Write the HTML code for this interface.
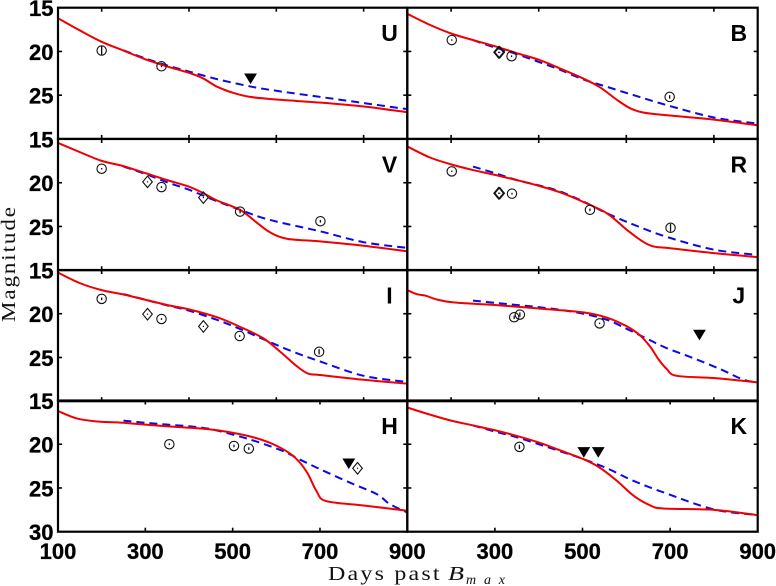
<!DOCTYPE html>
<html lang="en">
<head>
<meta charset="utf-8">
<title>Light curves by band</title>
<style>
html,body{margin:0;padding:0;background:#fff;width:776px;height:586px;overflow:hidden}
svg{display:block}
.tick-label{font-family:"Liberation Sans",sans-serif;font-weight:bold;font-size:22px;fill:#000;stroke:#000;stroke-width:.3px}
.band{font-family:"Liberation Sans",sans-serif;font-weight:bold;font-size:23px;fill:#000}
.axis-title{font-family:"Liberation Serif",serif;font-size:20px;fill:#111}
</style>
</head>
<body>
<svg id="chart" width="776" height="586" viewBox="0 0 776 586" xmlns="http://www.w3.org/2000/svg">
<text class="axis-title" transform="translate(328,580) scale(1.2,1)" textLength="93" lengthAdjust="spacing">Days past</text>
<text class="axis-title" x="448" y="580" font-style="italic" textLength="16" lengthAdjust="spacingAndGlyphs">B</text>
<text class="axis-title" x="466" y="584" font-style="italic" textLength="39" lengthAdjust="spacing" style="font-size:14px">max</text>
<text class="axis-title" transform="translate(15,322) rotate(-90) scale(1.15,1)" textLength="100" lengthAdjust="spacing">Magnitude</text>
</svg>
<script>
const xTickTop = [200, 400, 600, 800];
const xTickBottom = [300, 500, 700];
const xTickLabels = ['100', '300', '500', '700', '900'];
const xLabelDays = [100, 300, 500, 700, 900];
const yTicks = [20, 25];
const yLabelsUpper = [15, 20, 25];
const yLabelsLast = [15, 20, 25, 30];

const uRed = [[100,16.2],[150,17.6],[200,18.9],[250,19.9],[300,20.9],[349,21.7],[400,22.45],[433,23.1],[463,24],[502,24.75],[540,25.2],[600,25.5],[700,25.85],[800,26.3],[900,26.95]];
const uBlue = [[250,19.87],[300,20.8],[350,21.6],[400,22.3],[463,23.15],[540,24],[600,24.5],[700,25.2],[800,25.9],[900,26.6]];
const uCircles = [[200,19.9,0.5],[337,21.7,0.1]];
const uDiamonds = [];
const uTriangles = [[541,23.1]];

const bRed = [[100,15.7],[151,16.95],[200,17.95],[250,18.7],[300,19.4],[350,20.2],[400,20.95],[449,21.95],[502,23.1],[540,24.1],[579,25.55],[609,26.5],[640,27],[693,27.3],[800,27.8],[900,28.45]];
const bBlue = [[250,18.7],[300,19.55],[350,20.3],[400,21.2],[449,22.1],[502,23.2],[556,24.05],[617,25],[693,26.15],[800,27.55],[900,28.25]];
const bCircles = [[201.5,18.7,0.05],[338,20.55,0.1],[699,25.2,0.2]];
const bDiamonds = [[308.5,20.1,0.1],[311,20.1,0.1]];
const bTriangles = [];

const vRed = [[100,15.45],[150,16.5],[200,17.5],[250,18.1],[300,18.9],[350,19.7],[400,20.45],[433,21.2],[463,22],[517,23.1],[555,24.55],[585,25.65],[624,26.4],[700,26.7],[800,27.2],[900,27.85]];
const vBlue = [[250,18.15],[300,19],[350,19.95],[400,20.8],[456,21.95],[517,23.1],[585,24.25],[700,25.55],[800,26.8],[900,27.45]];
const vCircles = [[200,18.4,0.05],[337,20.5,0.1],[517,23.3,0.2],[701,24.4,0.15]];
const vDiamonds = [[305,19.9,0.05],[433,21.7,0.05]];
const vTriangles = [];

const rRed = [[100,15.85],[151,17.1],[200,17.9],[250,18.55],[300,19.1],[350,19.7],[400,20.35],[449,21.1],[502,22.2],[556,23.5],[601.5,25.4],[640,26.8],[663,27.3],[693,27.45],[800,28.05],[900,28.5]];
const rBlue = [[250,18.15],[300,18.9],[350,19.7],[400,20.3],[449,21],[502,22.15],[556,23.5],[617,24.8],[693,26.2],[800,27.65],[900,28.25]];
const rCircles = [[201.5,18.7,0.05],[339,21.25,0.1],[517,23.1,0.15],[701,25.15,0.45]];
const rDiamonds = [[308.5,21.2,0.1],[311,21.2,0.1]];
const rTriangles = [];

const iRed = [[100,15.3],[150,16.5],[200,17.3],[250,17.8],[300,18.4],[350,19],[400,19.5],[464,20.4],[517,21.5],[570,22.8],[608,24.3],[647,26],[673,26.85],[700,27],[800,27.55],[900,28]];
const iBlue = [[250,17.75],[300,18.4],[350,19.05],[400,19.65],[464,20.7],[517,21.75],[570,22.9],[631,24.2],[700,25.45],[800,27.1],[900,27.8]];
const iCircles = [[200,18.3,0.15],[337,20.6,0.1],[516,22.55,0.1],[698,24.35,0.3]];
const iDiamonds = [[305,20.05,0.05],[433,21.45,0.05]];
const iTriangles = [];

const jRed = [[100,17.3],[121,17.75],[143,17.95],[166,18.35],[205,18.7],[300,19],[400,19.4],[502,19.85],[556,20.45],[601.5,21.45],[632,22.5],[655,23.8],[674,25.25],[692,26.3],[715,27.1],[800,27.35],[900,27.85]];
const jBlue = [[250,18.5],[300,18.75],[350,19],[400,19.25],[449,19.55],[502,20],[556,20.7],[602,21.75],[655,23.05],[693,23.95],[754,25.1],[815,26.35],[868,27.55],[900,27.85]];
const jCircles = [[344,20.4,0.2],[357,20.1,0.25],[539,21.1,0.05]];
const jDiamonds = [];
const jTriangles = [[767,22.4]];

const hRed = [[100,16.2],[143,17.05],[189,17.4],[250,17.55],[349,17.95],[448,18.3],[501,18.7],[547,19.2],[593,20],[631,21.05],[654,22.1],[673,23.45],[692,25.35],[714,26.5],[800,27],[900,27.6]];
const hBlue = [[250,17.3],[300,17.55],[349,17.75],[400,17.95],[448,18.25],[501,18.9],[555,19.7],[616,20.8],[654,21.75],[700,22.85],[769,24.4],[830,25.7],[860,26.85],[900,27.8]];
const hCircles = [[355,20,0.1],[503,20.2,0.15],[537,20.5,0.15]];
const hDiamonds = [[786,22.75,0.05]];
const hTriangles = [[766,22.2]];

const kRed = [[100,15.8],[151,16.6],[200,17.3],[250,17.85],[300,18.4],[350,19.05],[400,19.8],[449,20.7],[502,21.7],[540,22.7],[579,24.2],[617,25.9],[655,27],[685,27.35],[800,27.5],[900,28.1]];
const kBlue = [[250,17.85],[300,18.55],[350,19.2],[400,20],[449,20.8],[502,21.7],[556,22.75],[617,24.2],[693,25.65],[800,27.45],[900,28.1]];
const kCircles = [[356,20.3,0.25]];
const kDiamonds = [];
const kTriangles = [[503,20.9],[536,20.9]];

const bandNames = ['U', 'B', 'V', 'R', 'I', 'J', 'H', 'K'];
const redSeries = [uRed, bRed, vRed, rRed, iRed, jRed, hRed, kRed];
const blueSeries = [uBlue, bBlue, vBlue, rBlue, iBlue, jBlue, hBlue, kBlue];
const circleSeries = [uCircles, bCircles, vCircles, rCircles, iCircles, jCircles, hCircles, kCircles];
const diamondSeries = [uDiamonds, bDiamonds, vDiamonds, rDiamonds, iDiamonds, jDiamonds, hDiamonds, kDiamonds];
const triangleSeries = [uTriangles, bTriangles, vTriangles, rTriangles, iTriangles, jTriangles, hTriangles, kTriangles];

const svg = document.getElementById('chart');
const NS = 'http://www.w3.org/2000/svg';
const colEdges = [58, 407.3, 757.7];
const rowTops = [7.7, 139, 270, 400.5];
const rowHeight = 131.2;

function xScale(col, day) {
  return colEdges[col] + (day - 100) / 800 * (colEdges[col + 1] - colEdges[col]);
}
function yScale(row, mag) {
  return rowTops[row] + (mag - 15) / 15 * rowHeight;
}
function make(tag, attrs, parent) {
  const el = document.createElementNS(NS, tag);
  for (const k in attrs) el.setAttribute(k, attrs[k]);
  parent.appendChild(el);
  return el;
}
function smoothPath(series, col, row) {
  const pts = series.map(function (p) {
    return [xScale(col, p[0]), yScale(row, p[1])];
  });
  let d = 'M' + pts[0][0].toFixed(2) + ' ' + pts[0][1].toFixed(2);
  for (let i = 0; i < pts.length - 1; i++) {
    const p0 = pts[Math.max(i - 1, 0)];
    const p1 = pts[i];
    const p2 = pts[i + 1];
    const p3 = pts[Math.min(i + 2, pts.length - 1)];
    const c1x = p1[0] + (p2[0] - p0[0]) / 6;
    const c1y = p1[1] + (p2[1] - p0[1]) / 6;
    const c2x = p2[0] - (p3[0] - p1[0]) / 6;
    const c2y = p2[1] - (p3[1] - p1[1]) / 6;
    d += 'C' + c1x.toFixed(2) + ' ' + c1y.toFixed(2) + ' ' + c2x.toFixed(2) + ' ' + c2y.toFixed(2) + ' ' + p2[0].toFixed(2) + ' ' + p2[1].toFixed(2);
  }
  return d;
}

bandNames.forEach(function (band, idx) {
  const col = idx % 2;
  const row = Math.floor(idx / 2);
  const key = band.toLowerCase();
  const g = make('g', {}, svg);
  
  

  const blue = make('path', {
    d: smoothPath(blueSeries[idx], col, row), fill: 'none', stroke: '#0a0ae6',
    'stroke-width': 2, 'stroke-dasharray': '8 5'
  }, g);
  
  

  const red = make('path', {
    d: smoothPath(redSeries[idx], col, row), fill: 'none', stroke: '#f00000',
    'stroke-width': 2, 'stroke-linejoin': 'round'
  }, g);
  
  

  circleSeries[idx].forEach(function (p) {
    const cx = xScale(col, p[0]);
    const cy = yScale(row, p[1]);
    const c = make('circle', { cx: cx, cy: cy, r: 4.7, fill: 'none', stroke: '#111', 'stroke-width': 1.1 }, g);
    
    
    make('line', {
      x1: cx, x2: cx, y1: cy - Math.max(p[2] * 8.75, 0.7), y2: cy + Math.max(p[2] * 8.75, 0.7),
      stroke: '#111', 'stroke-width': 1.3
    }, g);
  });

  diamondSeries[idx].forEach(function (p) {
    const cx = xScale(col, p[0]);
    const cy = yScale(row, p[1]);
    const d = make('polygon', {
      points: cx + ',' + (cy - 5.8) + ' ' + (cx + 4.8) + ',' + cy + ' ' + cx + ',' + (cy + 5.8) + ' ' + (cx - 4.8) + ',' + cy,
      fill: 'none', stroke: '#111', 'stroke-width': 1.1
    }, g);
    
    
    make('line', {
      x1: cx - 0.6, x2: cx + 0.6, y1: cy, y2: cy, stroke: '#111', 'stroke-width': 1.2
    }, g);
  });

  triangleSeries[idx].forEach(function (p) {
    const cx = xScale(col, p[0]);
    const cy = yScale(row, p[1]);
    const t = make('polygon', {
      points: (cx - 6.4) + ',' + (cy - 5) + ' ' + (cx + 6.4) + ',' + (cy - 5) + ' ' + cx + ',' + (cy + 5.6),
      fill: '#000'
    }, g);
    
    
  });

  const left = colEdges[col];
  const right = colEdges[col + 1];
  const top = rowTops[row];
  const bottom = top + rowHeight;
  const box = make('rect', {
    x: left, y: top, width: right - left, height: rowHeight, fill: 'none', stroke: '#000', 'stroke-width': 2.2
  }, g);
  
  

  const xTicks = row === 3 ? xTickBottom : xTickTop;
  xTicks.forEach(function (d) {
    const x = xScale(col, d);
    make('line', { x1: x, x2: x, y1: top, y2: top + 4, stroke: '#000', 'stroke-width': 1.6 }, g);
    make('line', { x1: x, x2: x, y1: bottom, y2: bottom - 4, stroke: '#000', 'stroke-width': 1.6 }, g);
  });
  yTicks.forEach(function (m) {
    const y = yScale(row, m);
    make('line', { x1: left, x2: left + 4, y1: y, y2: y, stroke: '#000', 'stroke-width': 1.6 }, g);
    make('line', { x1: right, x2: right - 4, y1: y, y2: y, stroke: '#000', 'stroke-width': 1.6 }, g);
  });

  const label = make('text', { class: 'band', x: left + 331.5, y: top + 33.5, 'text-anchor': 'middle' }, g);
  
  
  label.textContent = band;

  if (col === 0) {
    const yLabels = row === 3 ? yLabelsLast : yLabelsUpper;
    yLabels.forEach(function (m) {
      const t = make('text', { class: 'tick-label', x: 53.5, y: yScale(row, m) + 8.5, 'text-anchor': 'end' }, svg);
      
      
      t.textContent = String(m);
    });
  }
  if (row === 3) {
    xLabelDays.forEach(function (d, i) {
      if (col === 1 && i === 0) return;
      const t = make('text', { class: 'tick-label', x: xScale(col, d), y: 559, 'text-anchor': 'middle' }, svg);
      
      
      t.textContent = xTickLabels[i];
    });
  }
});
</script>
</body>
</html>
